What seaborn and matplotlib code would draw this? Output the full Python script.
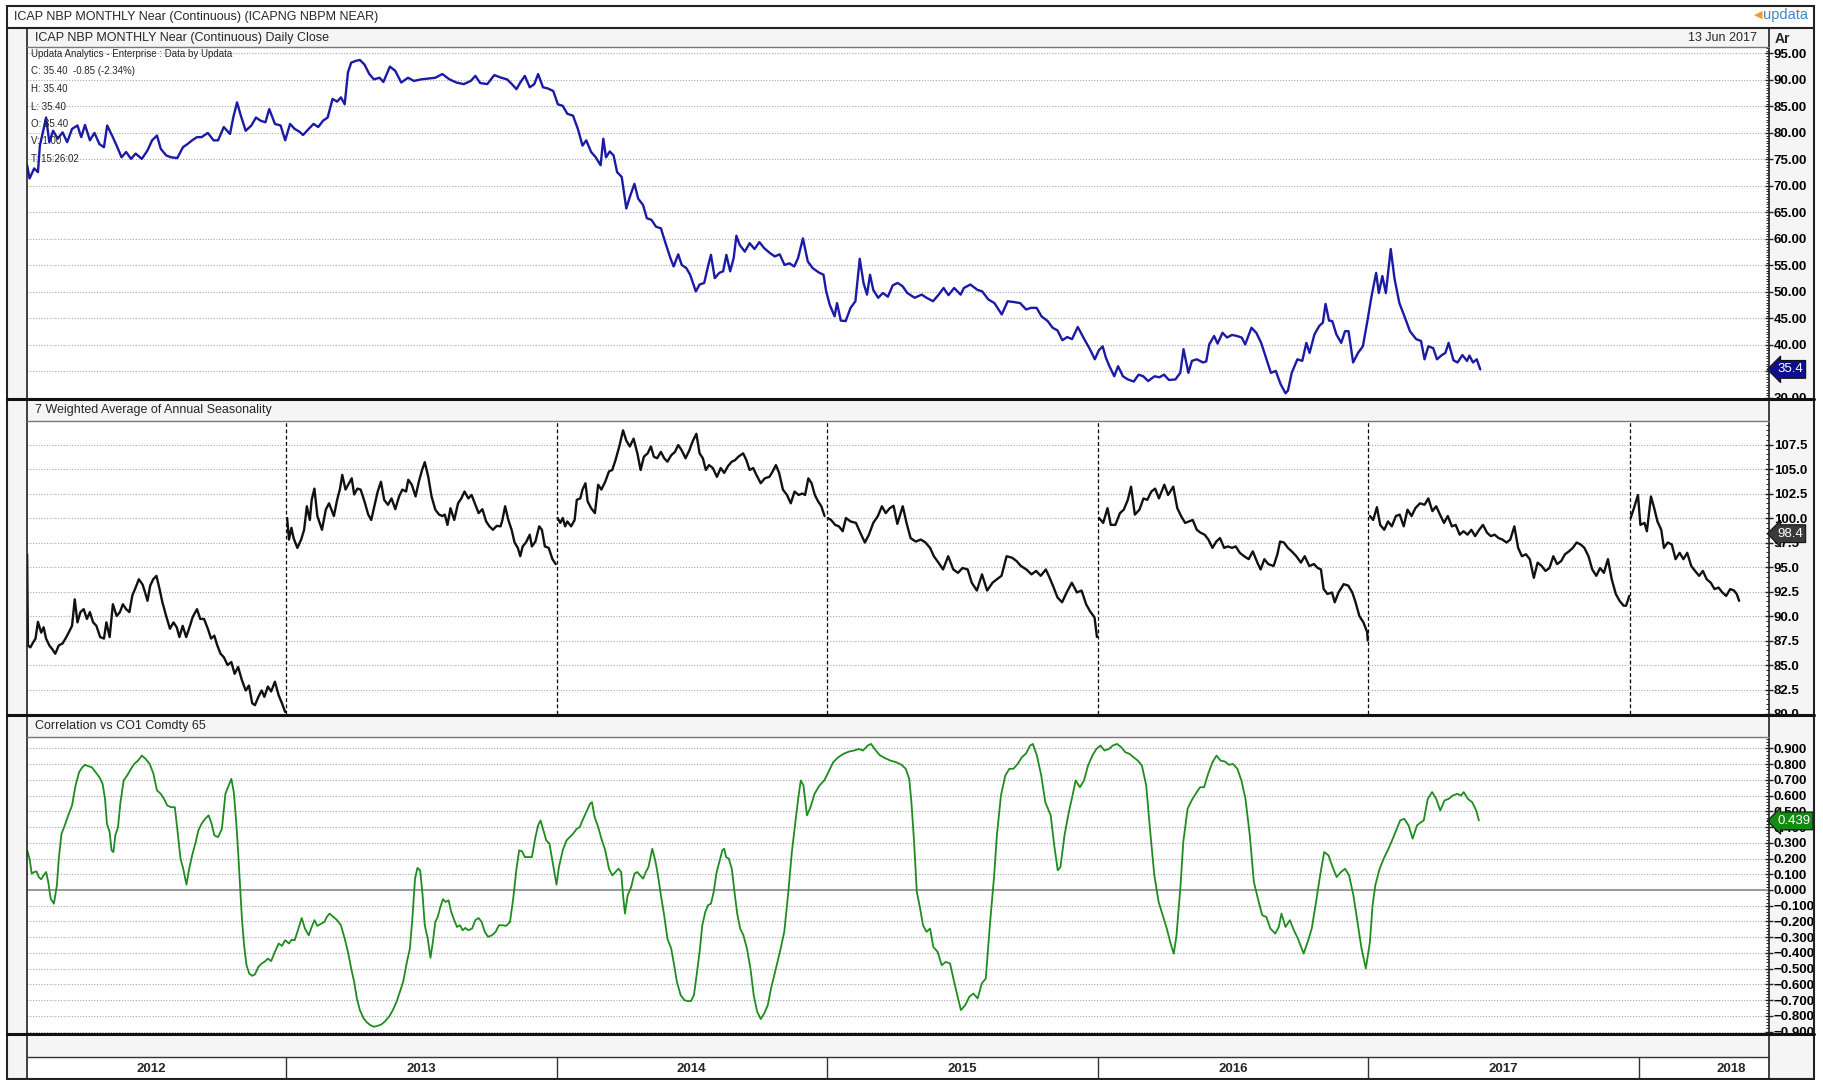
import numpy as np
import pandas as pd
import seaborn as sns
import matplotlib.pyplot as plt
from matplotlib.patches import Rectangle
from matplotlib.ticker import FixedLocator, MultipleLocator, StrMethodFormatter
from matplotlib.transforms import Bbox, TransformedBbox

# ---- values, x in decimal years ----
near_x = [
    2012.043, 2012.052, 2012.069, 2012.083, 2012.090, 2012.104, 2012.113, 2012.125, 2012.139, 2012.156,
    2012.174, 2012.191, 2012.209, 2012.229, 2012.243, 2012.257, 2012.275, 2012.292, 2012.310, 2012.327,
    2012.339, 2012.357, 2012.374, 2012.392, 2012.409, 2012.427, 2012.444, 2012.467, 2012.488, 2012.505,
    2012.523, 2012.537, 2012.557, 2012.575, 2012.598, 2012.619, 2012.636, 2012.653, 2012.671, 2012.688,
    2012.711, 2012.732, 2012.749, 2012.770, 2012.793, 2012.805, 2012.819, 2012.833, 2012.851, 2012.872,
    2012.889, 2012.906, 2012.924, 2012.938, 2012.959, 2012.980, 2012.997, 2013.015, 2013.032, 2013.049,
    2013.063, 2013.084, 2013.102, 2013.119, 2013.137, 2013.154, 2013.172, 2013.189, 2013.203, 2013.217,
    2013.229, 2013.241, 2013.259, 2013.273, 2013.290, 2013.308, 2013.325, 2013.346, 2013.360, 2013.384,
    2013.404, 2013.426, 2013.451, 2013.473, 2013.500, 2013.526, 2013.552, 2013.578, 2013.604, 2013.630,
    2013.657, 2013.683, 2013.700, 2013.718, 2013.744, 2013.770, 2013.796, 2013.817, 2013.835, 2013.852,
    2013.866, 2013.883, 2013.901, 2013.918, 2013.932, 2013.950, 2013.967, 2013.988, 2014.005, 2014.023,
    2014.040, 2014.061, 2014.079, 2014.096, 2014.110, 2014.128, 2014.145, 2014.163, 2014.173, 2014.183,
    2014.197, 2014.211, 2014.224, 2014.241, 2014.258, 2014.271, 2014.288, 2014.302, 2014.320, 2014.334,
    2014.351, 2014.368, 2014.386, 2014.403, 2014.421, 2014.433, 2014.450, 2014.463, 2014.480, 2014.494,
    2014.515, 2014.529, 2014.546, 2014.560, 2014.571, 2014.585, 2014.602, 2014.616, 2014.628, 2014.642,
    2014.655, 2014.665, 2014.677,
    2014.696, 2014.714, 2014.732, 2014.750, 2014.768, 2014.790, 2014.807, 2014.825, 2014.843, 2014.861,
    2014.879, 2014.893, 2014.911, 2014.929, 2014.947, 2014.969, 2014.987, 2014.997, 2015.010, 2015.028,
    2015.037, 2015.051, 2015.069, 2015.087, 2015.105, 2015.121, 2015.135, 2015.148, 2015.159, 2015.171,
    2015.189, 2015.207, 2015.225, 2015.243, 2015.261, 2015.279, 2015.297, 2015.324, 2015.350, 2015.368,
    2015.392, 2015.413, 2015.431, 2015.449, 2015.470, 2015.494, 2015.506, 2015.530, 2015.556, 2015.574,
    2015.596, 2015.619, 2015.646, 2015.668, 2015.691, 2015.714, 2015.736, 2015.754, 2015.775, 2015.793,
    2015.816, 2015.834, 2015.852, 2015.870, 2015.888, 2015.906, 2015.927, 2015.951, 2015.972, 2015.990,
    2016.005, 2016.019, 2016.031, 2016.044, 2016.062, 2016.076, 2016.094, 2016.112, 2016.134, 2016.152,
    2016.169, 2016.187, 2016.211, 2016.229, 2016.246, 2016.264, 2016.288, 2016.306, 2016.318, 2016.336,
    2016.349, 2016.367, 2016.390, 2016.402, 2016.413, 2016.431, 2016.444, 2016.462, 2016.479, 2016.497,
    2016.515, 2016.533, 2016.546, 2016.569, 2016.587, 2016.605, 2016.623, 2016.641, 2016.659, 2016.677,
    2016.695, 2016.704, 2016.718, 2016.739, 2016.757, 2016.772, 2016.784, 2016.802, 2016.820, 2016.833,
    2016.843, 2016.856, 2016.868, 2016.883, 2016.901, 2016.915, 2016.928, 2016.945, 2016.963, 2016.981,
    2016.999, 2017.012, 2017.030, 2017.040, 2017.053, 2017.066, 2017.084, 2017.098, 2017.116, 2017.137,
    2017.155, 2017.178, 2017.196, 2017.209, 2017.223, 2017.241, 2017.255, 2017.273, 2017.286, 2017.298,
    2017.316, 2017.331, 2017.349, 2017.366, 2017.375, 2017.388, 2017.402, 2017.415]
near_close = [
    73.9, 71.4, 73.3, 72.6, 77.6, 80.75, 82.9, 78.25, 80.4, 78.9,
    80.1, 78.25, 80.75, 81.4, 79.2, 81.5, 78.6, 80.0, 77.9, 77.3,
    81.4, 79.5, 77.6, 75.4, 76.4, 75.1, 76.1, 75.1, 76.7, 78.6,
    79.5, 77.0, 75.75, 75.4, 75.25, 77.3, 77.9, 78.6, 79.2, 79.2,
    80.0, 78.6, 78.6, 81.1, 79.8, 82.9, 85.75, 83.25, 80.4, 81.4,
    82.9, 82.3, 82.0, 84.5, 81.7, 81.4, 78.6, 81.7, 80.75, 80.25,
    79.6, 80.75, 81.7, 81.1, 82.3, 82.9, 86.4, 85.9, 86.7, 85.4,
    91.4, 93.25, 93.6, 93.75, 92.9, 91.1, 90.1, 90.4, 89.6, 92.5,
    91.7, 89.5, 90.4, 89.8, 90.1, 90.25, 90.4, 91.1, 90.1, 89.5,
    89.2, 89.8, 90.75, 89.4, 89.2, 90.9, 90.4, 90.1, 89.2, 88.25,
    89.5, 90.75, 88.6, 89.2, 91.1, 88.6, 88.4, 87.9, 85.4, 85.1,
    83.6, 83.25, 80.75, 77.6, 78.6, 76.4, 75.4, 73.9, 78.9, 75.4,
    76.5, 75.75, 72.6, 71.7, 65.75, 67.9, 70.4, 67.6, 66.4, 63.9,
    63.6, 62.3, 62.0, 59.2, 56.4, 54.8, 57.1, 55.1, 54.5, 53.25,
    50.1, 51.4, 51.7, 54.8, 57.0, 52.6, 53.6, 53.9, 57.0, 53.9,
    56.4, 60.6, 58.9,
    57.6, 59.2, 58.1, 59.4, 58.25, 57.3, 56.7, 57.1, 55.1, 55.4,
    54.8, 56.4, 60.1, 55.75, 54.5, 53.7, 53.25, 50.1, 47.6, 45.4,
    47.9, 44.6, 44.5, 47.0, 48.25, 56.25, 51.7, 49.5, 53.25, 50.4,
    48.9, 49.8, 49.1, 51.25, 51.7, 51.1, 49.8, 48.9, 49.5, 48.9,
    48.25, 49.5, 50.75, 49.4, 50.75, 49.5, 50.75, 51.4, 50.4, 50.1,
    48.6, 47.9, 45.75, 48.25, 48.1, 47.9, 46.7, 47.0, 47.0, 45.4,
    44.5, 43.25, 42.75, 40.9, 41.5, 41.1, 43.4, 41.1, 39.2, 37.3,
    39.0, 39.75, 37.6, 36.0, 34.1, 36.0, 34.1, 33.5, 33.1, 34.4,
    34.1, 33.2, 34.1, 33.9, 34.4, 33.4, 33.5, 34.75, 39.2, 34.75,
    37.0, 37.3, 36.7, 36.9, 40.1, 41.7, 40.25, 42.3, 41.4, 41.9,
    41.7, 41.4, 40.1, 43.25, 42.3, 40.4, 37.6, 34.75, 35.1, 32.6,
    30.9, 31.4, 34.75, 37.3, 37.0, 40.4, 38.5, 42.0, 43.6, 44.2,
    47.75, 44.6, 44.5, 42.0, 40.4, 42.6, 42.6, 36.7, 38.5, 39.75,
    44.9, 48.9, 53.6, 49.8, 53.0, 49.8, 58.1, 52.5, 47.9, 45.1,
    42.6, 41.1, 40.75, 37.3, 39.75, 39.4, 37.3, 38.1, 38.5, 40.4,
    37.1, 36.7, 38.1, 37.0, 38.0, 36.7, 37.3, 35.4]

season_x = [
    2012.043, 2012.046, 2012.055, 2012.065, 2012.074, 2012.083, 2012.095, 2012.104, 2012.113, 2012.125,
    2012.135, 2012.147, 2012.160, 2012.174, 2012.188, 2012.200, 2012.209, 2012.219, 2012.229, 2012.240,
    2012.252, 2012.264, 2012.275, 2012.287, 2012.299, 2012.313, 2012.327, 2012.336, 2012.348, 2012.360,
    2012.374, 2012.386, 2012.397, 2012.409, 2012.421, 2012.432, 2012.444, 2012.456, 2012.470, 2012.479,
    2012.488, 2012.498, 2012.509, 2012.521, 2012.533, 2012.543, 2012.557, 2012.571, 2012.584, 2012.596,
    2012.606, 2012.618, 2012.631, 2012.645, 2012.655, 2012.671, 2012.683, 2012.697, 2012.711, 2012.723,
    2012.735, 2012.746, 2012.758, 2012.770, 2012.784, 2012.798, 2012.810, 2012.823, 2012.837, 2012.851,
    2012.863, 2012.875, 2012.885, 2012.898, 2012.910, 2012.920, 2012.933, 2012.945, 2012.959, 2012.973,
    2012.985, 2012.997, 2013.004, 2013.011, 2013.020, 2013.028, 2013.042, 2013.056, 2013.067, 2013.077,
    2013.088, 2013.095, 2013.105, 2013.116, 2013.133, 2013.147, 2013.159, 2013.177, 2013.189, 2013.199,
    2013.208, 2013.220, 2013.233, 2013.243, 2013.252, 2013.264, 2013.276, 2013.290, 2013.304, 2013.315,
    2013.329, 2013.339, 2013.351, 2013.363, 2013.377, 2013.390, 2013.404, 2013.418, 2013.430, 2013.444,
    2013.452, 2013.465, 2013.479, 2013.491, 2013.503, 2013.513, 2013.526, 2013.538, 2013.552, 2013.566,
    2013.578, 2013.587, 2013.597, 2013.608, 2013.622, 2013.636, 2013.648, 2013.660, 2013.674, 2013.686,
    2013.700, 2013.712, 2013.726, 2013.740, 2013.752, 2013.765, 2013.779, 2013.793, 2013.800, 2013.810,
    2013.822, 2013.834, 2013.845, 2013.857, 2013.866, 2013.875, 2013.887, 2013.901, 2013.909, 2013.922,
    2013.936, 2013.946, 2013.957, 2013.971, 2013.985, 2013.997, 2014.004, 2014.014, 2014.023, 2014.032,
    2014.040, 2014.054, 2014.067, 2014.075, 2014.088, 2014.096, 2014.107, 2014.115, 2014.128, 2014.142,
    2014.154, 2014.166, 2014.180, 2014.194, 2014.206, 2014.218, 2014.232, 2014.246, 2014.258, 2014.271,
    2014.285, 2014.299, 2014.311, 2014.323, 2014.337, 2014.349, 2014.360, 2014.372, 2014.386, 2014.398,
    2014.410, 2014.424, 2014.438, 2014.450, 2014.463, 2014.477, 2014.491, 2014.503, 2014.517, 2014.529,
    2014.541, 2014.552, 2014.564, 2014.578, 2014.593, 2014.607, 2014.620, 2014.634, 2014.648, 2014.660,
    2014.672, 2014.690, 2014.702, 2014.714, 2014.727, 2014.739, 2014.755, 2014.770, 2014.787, 2014.799,
    2014.811, 2014.823, 2014.837, 2014.852, 2014.866, 2014.880, 2014.895, 2014.909, 2014.919, 2014.931,
    2014.943, 2014.955, 2014.967, 2014.979, 2014.991, 2015.003, 2015.015, 2015.030, 2015.044, 2015.058,
    2015.070, 2015.087, 2015.107, 2015.123, 2015.140, 2015.155, 2015.171, 2015.188, 2015.203, 2015.217,
    2015.232, 2015.246, 2015.260, 2015.280, 2015.294, 2015.309, 2015.328, 2015.347, 2015.364, 2015.381,
    2015.395, 2015.412, 2015.429, 2015.448, 2015.467, 2015.484, 2015.501, 2015.520, 2015.535, 2015.554,
    2015.573, 2015.592, 2015.612, 2015.628, 2015.645, 2015.664, 2015.684, 2015.701, 2015.717, 2015.737,
    2015.756, 2015.773, 2015.790, 2015.809, 2015.823, 2015.838, 2015.852, 2015.869, 2015.886, 2015.905,
    2015.924, 2015.941, 2015.958, 2015.972, 2015.989, 2015.998, 2016.006, 2016.021, 2016.037, 2016.049,
    2016.066, 2016.083, 2016.097, 2016.112, 2016.124, 2016.138, 2016.155, 2016.170, 2016.184, 2016.199,
    2016.213, 2016.227, 2016.247, 2016.261, 2016.280, 2016.295, 2016.309, 2016.324, 2016.338, 2016.352,
    2016.367, 2016.381, 2016.396, 2016.410, 2016.425, 2016.439, 2016.453, 2016.468, 2016.482, 2016.497,
    2016.511, 2016.526, 2016.542, 2016.559, 2016.574, 2016.591, 2016.603, 2016.617, 2016.631, 2016.651,
    2016.665, 2016.675, 2016.689, 2016.704, 2016.718, 2016.735, 2016.752, 2016.766, 2016.783, 2016.800,
    2016.814, 2016.826, 2016.836, 2016.850, 2016.867, 2016.877, 2016.891, 2016.910, 2016.927, 2016.942,
    2016.954, 2016.968, 2016.983, 2016.997, 2016.999, 2017.007, 2017.019, 2017.033, 2017.045, 2017.060,
    2017.074, 2017.088, 2017.103, 2017.117, 2017.132, 2017.146, 2017.161, 2017.175, 2017.192, 2017.209,
    2017.223, 2017.238, 2017.252, 2017.266, 2017.281, 2017.295, 2017.310, 2017.324, 2017.339, 2017.353,
    2017.368, 2017.382, 2017.396, 2017.411, 2017.425, 2017.440, 2017.454, 2017.468, 2017.483, 2017.497,
    2017.512, 2017.526, 2017.541, 2017.555, 2017.569, 2017.584, 2017.598, 2017.613, 2017.627, 2017.642,
    2017.656, 2017.671, 2017.685, 2017.699, 2017.714, 2017.728, 2017.743, 2017.757, 2017.771, 2017.786,
    2017.800, 2017.815, 2017.829, 2017.844, 2017.858, 2017.872, 2017.887, 2017.901, 2017.916, 2017.930,
    2017.945, 2017.954, 2017.966,
    2017.971, 2017.983, 2017.998, 2018.007, 2018.022, 2018.031, 2018.046, 2018.058, 2018.070, 2018.084,
    2018.094, 2018.108, 2018.123, 2018.137, 2018.152, 2018.166, 2018.180, 2018.195, 2018.209, 2018.224,
    2018.238, 2018.252, 2018.267, 2018.281, 2018.296, 2018.310, 2018.324, 2018.339, 2018.353, 2018.363,
    2018.372]
season_val = [
    96.3, 87.0, 86.8, 87.3, 87.7, 89.4, 88.3, 88.85, 87.7, 87.0,
    86.65, 86.15, 87.0, 87.2, 87.85, 88.5, 89.0, 91.7, 89.35, 90.4,
    90.7, 89.7, 90.4, 89.35, 89.0, 87.85, 87.7, 89.35, 87.85, 91.2,
    90.0, 90.4, 91.2, 90.7, 90.4, 92.1, 92.9, 93.75, 93.2, 92.4,
    91.55, 93.1, 93.75, 94.1, 92.7, 91.4, 90.0, 88.7, 89.35, 88.85,
    87.85, 89.0, 87.85, 89.0, 89.9, 90.7, 89.7, 89.7, 88.7, 87.7,
    88.0, 87.0, 86.15, 85.8, 85.0, 85.3, 84.1, 84.8, 83.45, 82.4,
    82.9, 81.1, 80.9, 81.75, 82.4, 81.75, 82.8, 82.3, 83.3, 81.9,
    81.1, 80.2, 100.0, 97.8, 99.0, 97.95, 96.95, 97.8, 98.8, 101.2,
    99.8, 101.85, 103.0, 100.2, 98.8, 100.85, 101.5, 100.2, 101.85, 102.9,
    104.4, 102.9, 103.55, 104.05, 102.4, 103.0, 102.9, 101.7, 100.35, 99.8,
    101.5, 102.7, 103.7, 101.85, 101.35, 102.0, 100.9, 102.2, 102.9, 102.7,
    103.9, 103.4, 102.2, 103.7, 104.9, 105.7, 104.2, 102.2, 100.85, 100.35,
    100.2, 100.35, 99.3, 101.0, 99.8, 101.5, 102.0, 102.7, 102.0, 102.35,
    101.35, 100.5, 100.9, 99.65, 99.15, 98.8, 99.2, 99.15, 99.8, 101.2,
    99.8, 98.8, 97.5, 96.95, 96.1, 97.1, 97.5, 98.3, 97.1, 97.6,
    99.15, 98.8, 97.1, 96.95, 95.8, 95.3, 100.0, 99.5, 100.0, 99.15,
    99.65, 99.15, 99.8, 101.85, 102.0, 102.9, 103.55, 101.7, 101.0, 100.5,
    103.4, 102.9, 103.7, 104.75, 104.9, 105.9, 107.3, 108.95, 107.9, 107.3,
    108.1, 106.6, 104.9, 106.25, 106.6, 107.3, 106.25, 106.1, 106.75, 106.1,
    105.75, 106.4, 106.75, 107.45, 106.9, 106.1, 106.9, 107.8, 108.6, 106.6,
    106.1, 104.9, 105.4, 105.1, 104.2, 105.1, 104.6, 105.3, 105.75, 105.9,
    106.25, 106.6, 105.9, 104.9, 105.1, 104.4, 103.55, 104.05, 104.2, 104.75,
    105.4, 104.6, 102.9, 102.35, 101.5, 102.7, 102.35, 102.5, 102.35, 104.05,
    103.55, 102.35, 101.7, 101.2, 100.2, 100.0, 99.8, 99.3, 99.15, 98.65,
    100.0, 99.65, 99.5, 98.5, 97.5, 98.3, 99.5, 100.2, 101.2, 100.5,
    101.0, 101.25, 99.4, 101.2, 99.5, 97.95, 97.6, 97.8, 97.5, 96.95,
    96.1, 95.45, 94.75, 96.1, 94.75, 94.4, 94.9, 94.75, 93.4, 92.6,
    94.25, 92.6, 93.4, 93.75, 94.1, 96.1, 95.95, 95.6, 95.1, 94.75,
    94.25, 94.6, 94.1, 94.75, 93.9, 92.9, 91.9, 91.4, 92.4, 93.4,
    92.4, 92.6, 91.2, 90.5, 89.85, 87.85, 100.0, 99.5, 101.0, 99.3,
    99.3, 100.5, 100.85, 101.85, 103.2, 100.35, 100.85, 102.0, 101.85, 102.7,
    103.0, 102.0, 103.4, 102.35, 103.2, 101.0, 100.2, 99.5, 99.65, 99.8,
    98.8, 98.5, 98.3, 97.8, 96.95, 97.6, 97.95, 96.95, 97.1, 96.95,
    97.1, 96.45, 96.1, 95.8, 96.6, 95.45, 94.75, 95.8, 95.3, 95.1,
    96.3, 97.6, 97.5, 96.95, 96.6, 96.1, 95.45, 96.1, 95.1, 95.3,
    94.9, 94.75, 92.75, 92.25, 92.4, 91.4, 92.4, 93.25, 93.1, 92.4,
    91.4, 90.0, 89.35, 88.35, 87.5, 100.2, 99.8, 101.1, 99.3, 98.8,
    99.65, 99.15, 100.2, 100.35, 99.15, 100.85, 100.2, 101.0, 101.5, 101.35,
    102.0, 100.7, 101.2, 100.35, 99.5, 100.2, 99.15, 99.3, 98.3, 98.65,
    98.3, 98.8, 98.15, 98.8, 99.3, 98.5, 98.15, 98.3, 97.95, 97.8,
    97.5, 97.8, 99.15, 96.95, 96.1, 96.3, 95.8, 93.9, 95.45, 95.1,
    94.6, 94.9, 96.1, 95.3, 95.6, 96.3, 96.6, 96.95, 97.5, 97.3,
    96.95, 96.1, 94.75, 94.1, 94.9, 94.4, 95.8, 93.75, 92.25, 91.55,
    91.05, 91.05, 92.05,
    100.0, 101.0, 102.35, 99.3, 99.5, 98.65, 102.2, 101.0, 99.65, 98.8,
    96.95, 97.5, 97.3, 95.8, 96.45, 95.8, 96.45, 95.1, 94.6, 94.1,
    94.6, 93.75, 93.4, 92.75, 92.9, 92.4, 92.05, 92.75, 92.6, 92.25,
    91.55]
# start of each annual seasonal pattern (the last one is the projection into 2018)
season_start = [2012.0, 2013.0, 2014.0, 2015.0, 2016.0, 2017.0, 2017.97]

corr_x = [
    2012.043, 2012.052, 2012.060, 2012.069, 2012.078, 2012.086, 2012.095, 2012.104, 2012.113, 2012.121,
    2012.130, 2012.142, 2012.153, 2012.160, 2012.170, 2012.182, 2012.195, 2012.209, 2012.222, 2012.235,
    2012.247, 2012.257, 2012.270, 2012.282, 2012.296, 2012.310, 2012.322, 2012.331, 2012.338, 2012.348,
    2012.355, 2012.362, 2012.369, 2012.379, 2012.388, 2012.400, 2012.414, 2012.427, 2012.439, 2012.453,
    2012.467, 2012.481, 2012.496, 2012.510, 2012.523, 2012.537, 2012.549, 2012.561, 2012.575, 2012.589,
    2012.598, 2012.610, 2012.620, 2012.632, 2012.641, 2012.653, 2012.666, 2012.676, 2012.688, 2012.701,
    2012.714, 2012.725, 2012.735, 2012.749, 2012.763, 2012.776, 2012.788, 2012.798, 2012.807, 2012.816,
    2012.823, 2012.830, 2012.837, 2012.845, 2012.854, 2012.864, 2012.875, 2012.885, 2012.898, 2012.910,
    2012.920, 2012.933, 2012.945, 2012.959, 2012.973, 2012.985, 2012.997, 2013.011, 2013.020, 2013.032,
    2013.046, 2013.058, 2013.070, 2013.084, 2013.095, 2013.105, 2013.116, 2013.130, 2013.142, 2013.151,
    2013.161, 2013.175, 2013.189, 2013.203, 2013.217, 2013.229, 2013.241, 2013.252, 2013.262, 2013.273,
    2013.287, 2013.299, 2013.311, 2013.325, 2013.339, 2013.353, 2013.367, 2013.381, 2013.395, 2013.409,
    2013.421, 2013.433, 2013.447, 2013.458, 2013.468, 2013.477, 2013.486, 2013.496, 2013.505, 2013.513,
    2013.524, 2013.534, 2013.543, 2013.552, 2013.561, 2013.569, 2013.580, 2013.590, 2013.601, 2013.611,
    2013.622, 2013.632, 2013.643, 2013.653, 2013.663, 2013.674, 2013.688, 2013.700, 2013.712, 2013.723,
    2013.735, 2013.747, 2013.761, 2013.775, 2013.787, 2013.800, 2013.814, 2013.828, 2013.840, 2013.852,
    2013.862, 2013.873, 2013.883, 2013.897, 2013.909, 2013.922, 2013.932, 2013.941, 2013.950, 2013.962,
    2013.974, 2013.988, 2014.000, 2014.009, 2014.023, 2014.037, 2014.049, 2014.061, 2014.075, 2014.086,
    2014.096, 2014.110, 2014.124, 2014.131, 2014.141, 2014.154, 2014.166, 2014.180, 2014.194, 2014.206,
    2014.218, 2014.229, 2014.239, 2014.246, 2014.253, 2014.263, 2014.276, 2014.288, 2014.299, 2014.309,
    2014.320, 2014.330, 2014.340, 2014.354, 2014.365, 2014.375, 2014.386, 2014.398, 2014.410, 2014.424,
    2014.435, 2014.445, 2014.459, 2014.473, 2014.485, 2014.497, 2014.508, 2014.518, 2014.529, 2014.539,
    2014.550, 2014.560, 2014.571, 2014.581, 2014.592, 2014.602, 2014.613, 2014.620, 2014.627, 2014.637,
    2014.648, 2014.658, 2014.668, 2014.679, 2014.691, 2014.704, 2014.717, 2014.729, 2014.742, 2014.755,
    2014.768, 2014.781, 2014.793, 2014.811, 2014.826, 2014.842, 2014.857, 2014.870, 2014.883, 2014.895,
    2014.903, 2014.913, 2014.926, 2014.939, 2014.954, 2014.972, 2014.990, 2015.005, 2015.023, 2015.041,
    2015.061, 2015.082, 2015.100, 2015.118, 2015.133, 2015.151, 2015.163, 2015.176, 2015.194, 2015.215,
    2015.235, 2015.255, 2015.276, 2015.291, 2015.304, 2015.312, 2015.322, 2015.332, 2015.342, 2015.355,
    2015.368, 2015.381, 2015.393, 2015.409, 2015.424, 2015.439, 2015.455, 2015.470, 2015.483, 2015.495,
    2015.511, 2015.526, 2015.541, 2015.557, 2015.572, 2015.587, 2015.603, 2015.618, 2015.628, 2015.643,
    2015.659, 2015.674, 2015.689, 2015.705, 2015.720, 2015.735, 2015.751, 2015.761, 2015.776, 2015.792,
    2015.807, 2015.827, 2015.840, 2015.853, 2015.863, 2015.878, 2015.894, 2015.909, 2015.919, 2015.935,
    2015.950, 2015.965, 2015.981, 2015.996, 2016.011, 2016.026, 2016.042, 2016.057, 2016.072, 2016.088,
    2016.103, 2016.118, 2016.134, 2016.149, 2016.164, 2016.180, 2016.195, 2016.210, 2016.226, 2016.241,
    2016.256, 2016.272, 2016.282, 2016.292, 2016.307, 2016.317, 2016.333, 2016.348, 2016.363, 2016.379,
    2016.394, 2016.409, 2016.425, 2016.440, 2016.455, 2016.471, 2016.486, 2016.501, 2016.517, 2016.532,
    2016.547, 2016.563, 2016.578, 2016.593, 2016.609, 2016.624, 2016.639, 2016.657, 2016.670, 2016.680,
    2016.695, 2016.711, 2016.726, 2016.741, 2016.762, 2016.777, 2016.792, 2016.808, 2016.823, 2016.838,
    2016.854, 2016.869, 2016.884, 2016.900, 2016.915, 2016.930, 2016.946, 2016.961, 2016.976, 2016.992,
    2017.007, 2017.017, 2017.027, 2017.043, 2017.058, 2017.073, 2017.089, 2017.104, 2017.119, 2017.134,
    2017.150, 2017.165, 2017.181, 2017.196, 2017.206, 2017.221, 2017.237, 2017.252, 2017.267, 2017.283,
    2017.298, 2017.313, 2017.329, 2017.344, 2017.354, 2017.369, 2017.385, 2017.400, 2017.410]
corr_val = [
    0.252, 0.199, 0.104, 0.114, 0.118, 0.082, 0.068, 0.093, 0.114, 0.051,
    -0.055, -0.087, 0.030, 0.199, 0.357, 0.410, 0.474, 0.537, 0.664, 0.748,
    0.780, 0.795, 0.786, 0.780, 0.748, 0.717, 0.674, 0.579, 0.421, 0.368,
    0.252, 0.241, 0.347, 0.400, 0.558, 0.696, 0.731, 0.770, 0.801, 0.822,
    0.854, 0.833, 0.801, 0.738, 0.632, 0.611, 0.579, 0.537, 0.526, 0.526,
    0.389, 0.199, 0.135, 0.034, 0.125, 0.220, 0.304, 0.378, 0.421, 0.452,
    0.474, 0.421, 0.347, 0.336, 0.389, 0.611, 0.664, 0.706, 0.622, 0.431,
    0.241, 0.030, -0.182, -0.351, -0.478, -0.531, -0.545, -0.537, -0.488, -0.467,
    -0.457, -0.436, -0.452, -0.393, -0.340, -0.355, -0.319, -0.340, -0.317, -0.319,
    -0.245, -0.178, -0.245, -0.288, -0.235, -0.192, -0.228, -0.214, -0.203, -0.171,
    -0.150, -0.171, -0.192, -0.224, -0.309, -0.393, -0.499, -0.584, -0.689, -0.763,
    -0.816, -0.841, -0.858, -0.869, -0.863, -0.854, -0.833, -0.805, -0.763, -0.710,
    -0.647, -0.584, -0.457, -0.372, -0.161, 0.072, 0.140, 0.125, -0.034, -0.224,
    -0.309, -0.431, -0.330, -0.203, -0.171, -0.118, -0.059, -0.076, -0.066, -0.140,
    -0.192, -0.235, -0.224, -0.256, -0.241, -0.256, -0.245, -0.192, -0.178, -0.203,
    -0.266, -0.298, -0.288, -0.266, -0.224, -0.224, -0.228, -0.203, -0.055, 0.135,
    0.252, 0.245, 0.209, 0.209, 0.209, 0.336, 0.410, 0.442, 0.389, 0.315,
    0.294, 0.156, 0.034, 0.146, 0.252, 0.315, 0.336, 0.357, 0.389, 0.400,
    0.442, 0.495, 0.548, 0.558, 0.463, 0.400, 0.326, 0.252, 0.135, 0.093,
    0.114, 0.135, 0.114, -0.034, -0.150, -0.034, 0.019, 0.104, 0.114, 0.093,
    0.072, 0.114, 0.146, 0.262, 0.188, 0.093, -0.034, -0.161, -0.309, -0.372,
    -0.478, -0.584, -0.668, -0.700, -0.706, -0.706, -0.668, -0.541, -0.393, -0.224,
    -0.140, -0.097, -0.087, -0.013, 0.114, 0.178, 0.252, 0.262, 0.209, 0.199,
    0.135, -0.013, -0.150, -0.245, -0.288, -0.372, -0.499, -0.668, -0.774, -0.820,
    -0.784, -0.732, -0.626, -0.499, -0.393, -0.266, -0.013, 0.241, 0.431, 0.600,
    0.696, 0.664, 0.474, 0.526, 0.611, 0.664, 0.696, 0.748, 0.812, 0.843,
    0.865, 0.880, 0.886, 0.896, 0.886, 0.918, 0.928, 0.896, 0.858, 0.837,
    0.822, 0.812, 0.795, 0.770, 0.706, 0.558, 0.304, -0.013, -0.097, -0.224,
    -0.266, -0.245, -0.362, -0.393, -0.478, -0.457, -0.467, -0.584, -0.679, -0.763,
    -0.732, -0.679, -0.658, -0.689, -0.594, -0.562, -0.203, 0.093, 0.347, 0.600,
    0.727, 0.770, 0.770, 0.801, 0.843, 0.865, 0.918, 0.928, 0.854, 0.727,
    0.558, 0.474, 0.283, 0.125, 0.146, 0.347, 0.495, 0.611, 0.696, 0.653,
    0.696, 0.791, 0.854, 0.896, 0.918, 0.886, 0.896, 0.918, 0.928, 0.907,
    0.875, 0.865, 0.843, 0.822, 0.791, 0.664, 0.368, 0.093, -0.076, -0.161,
    -0.245, -0.351, -0.404, -0.288, 0.030, 0.304, 0.516, 0.569, 0.611, 0.653,
    0.653, 0.738, 0.812, 0.854, 0.822, 0.816, 0.795, 0.801, 0.770, 0.696,
    0.579, 0.347, 0.051, -0.055, -0.161, -0.171, -0.245, -0.277, -0.235, -0.150,
    -0.235, -0.192, -0.256, -0.309, -0.404, -0.330, -0.245, -0.076, 0.093, 0.241,
    0.220, 0.146, 0.082, 0.114, 0.135, 0.093, -0.034, -0.203, -0.372, -0.499,
    -0.330, -0.097, 0.030, 0.135, 0.199, 0.252, 0.315, 0.378, 0.442, 0.452,
    0.410, 0.326, 0.410, 0.431, 0.442, 0.579, 0.622, 0.579, 0.505, 0.569,
    0.579, 0.600, 0.611, 0.600, 0.622, 0.579, 0.558, 0.505, 0.442]

years = [2012, 2013, 2014, 2015, 2016, 2017, 2018]
last_close, last_season, last_corr = 35.4, 98.4, 0.439
info_lines = ['Updata Analytics - Enterprise : Data by Updata', 'C: 35.40  -0.85 (-2.34%)',
              'H: 35.40', 'L: 35.40', 'O: 35.40', 'V: 1.00', 'T: 15:26:02']

W, H = 1823, 1080
X0, X1 = 2012.0425, 2018.4824

sns.set_theme(style='white')
plt.rcParams['font.family'] = ['Liberation Sans', 'DejaVu Sans']

fig = plt.figure(figsize=(W / 100, H / 100), dpi=100)


def box(x0, y0, x1, y1):
    # pixel box with top-left origin -> figure rect
    return [x0 / W, 1 - y1 / H, (x1 - x0) / W, (y1 - y0) / H]


bg = fig.add_axes([0, 0, 1, 1], zorder=-5)
bg.set_xlim(0, W); bg.set_ylim(H, 0); bg.axis('off')
top = fig.add_axes([0, 0, 1, 1], zorder=10)
top.set_xlim(0, W); top.set_ylim(H, 0); top.axis('off')

grey = '#f5f5f5'
for (a, b, c, d) in [(7, 28, 27, 1079), (1769, 28, 1814, 1079), (27, 28, 1769, 47),
                     (27, 399, 1769, 421), (27, 715, 1769, 737), (27, 1034, 1769, 1057)]:
    bg.add_patch(Rectangle((a, b), c - a, d - b, fc=grey, ec='none'))

ax1 = fig.add_axes(box(27, 47, 1769, 398))
ax2 = fig.add_axes(box(27, 421, 1769, 714))
ax3 = fig.add_axes(box(27, 737, 1769, 1034))
axy = fig.add_axes(box(27, 1057, 1769, 1078))

df_near = pd.DataFrame({'x': near_x, 'close': near_close})
sns.lineplot(data=df_near, x='x', y='close', ax=ax1, color='#1a1aa6', linewidth=1.7,
             estimator=None, sort=False)

df_season = pd.DataFrame({'x': season_x, 'val': season_val})
df_season['seg'] = np.searchsorted(season_start, df_season['x'], side='right')
sns.lineplot(data=df_season, x='x', y='val', units='seg', estimator=None, sort=False,
             ax=ax2, color='#111111', linewidth=1.7)
for s in season_start[1:]:
    ax2.axvline(s, color='black', ls=(0, (3, 2)), lw=0.9, zorder=1)

df_corr = pd.DataFrame({'x': corr_x, 'corr': corr_val})
ax3.axhline(0, color='#9a9a9a', lw=1.4, zorder=1.5)
sns.lineplot(data=df_corr, x='x', y='corr', ax=ax3, color='#1e8c1e', linewidth=1.3,
             estimator=None, sort=False)


def style(ax, ylim, ticks, fmt, minor, y0, y1):
    ax.set_xlim(X0, X1)
    ax.set_ylim(*ylim)
    ax.set_xticks([])
    ax.set_xlabel('')
    ax.set_ylabel('')
    for s in ax.spines.values():
        s.set_visible(False)
    ax.yaxis.set_major_locator(FixedLocator(ticks))
    ax.yaxis.set_minor_locator(MultipleLocator(minor))
    ax.yaxis.set_major_formatter(StrMethodFormatter(fmt))
    ax.yaxis.tick_right()
    ax.tick_params(axis='y', which='major', direction='inout', length=6, width=1, color='#222',
                   labelsize=9.5, pad=0.5, labelcolor='black', right=True, left=False)
    ax.tick_params(axis='y', which='minor', direction='in', length=2.5, width=0.7, color='#222',
                   right=True, left=False)
    ax.grid(axis='y', which='major', ls=(0, (1, 1.5)), color='#a8a8a8', lw=0.8)
    ax.grid(axis='x', visible=False)
    clip = TransformedBbox(Bbox.from_extents(1769 / W, 1 - y1 / H, 1814 / W, 1 - y0 / H),
                           fig.transFigure)
    for t in ax.get_yticklabels():
        t.set_fontweight('bold')
        t.set_clip_box(clip)
        t.set_clip_on(True)


style(ax1, (30, 96.2), np.arange(30, 96, 5), '{x:.2f}', 0.5, 47, 398)
style(ax2, (80, 109.9), np.arange(80, 108.6, 2.5), '{x:.1f}', 0.5, 421, 714)
style(ax3, (-0.915, 0.972), np.arange(-9, 10) / 10, '{x:.3f}', 0.02, 737, 1034)


def tag(ax, v, text, fc):
    ax.annotate(text, xy=(1, v), xycoords=('axes fraction', 'data'), xytext=(8, 0),
                textcoords='offset pixels', ha='left', va='center', fontsize=9.5,
                color='white', annotation_clip=False, zorder=30,
                bbox=dict(boxstyle='larrow,pad=0.22', fc=fc, ec='#111111', lw=0.8))


tag(ax1, last_close, f'{last_close:.1f}', '#0f0f8c')
tag(ax2, last_season, f'{last_season:.1f}', '#3a3a3a')
tag(ax3, last_corr, f'{last_corr:.3f}', '#138a13')

# year strip
axy.set_xlim(X0, X1)
axy.set_ylim(0, 1)
axy.axis('off')
axy.vlines(years[1:], 0, 1, color='#333333', lw=1)
for y in years:
    axy.text(min(y + 0.5, X1 - 0.14), 0.45, str(y), ha='center', va='center',
             fontsize=9.5, fontweight='bold')

# frame lines
top.add_patch(Rectangle((7, 6), 1807, 1073, fill=False, ec='#222222', lw=1.5))
top.plot([7, 1814], [28, 28], color='#222222', lw=1.5)
top.plot([27, 27], [28, 1079], color='#222222', lw=1.2)
top.plot([1769, 1769], [28, 1079], color='#222222', lw=1.2)
for y in (47, 421, 737):
    top.plot([27, 1769], [y, y], color='#777777', lw=1)
for y in (398.5, 714.5, 1034):
    top.plot([7, 1814], [y, y], color='#111111', lw=2.2)
top.plot([27, 1769], [1057, 1057], color='#333333', lw=1)

# headers
top.text(14, 17, 'ICAP NBP MONTHLY Near (Continuous) (ICAPNG NBPM NEAR)', fontsize=9, va='center')
top.text(35, 38, 'ICAP NBP MONTHLY Near (Continuous) Daily Close', fontsize=9, va='center')
top.text(1757, 38, '13 Jun 2017', fontsize=9, va='center', ha='right')
top.text(1775, 39, 'Ar', fontsize=10, va='center', fontweight='bold')
top.text(35, 410, '7 Weighted Average of Annual Seasonality', fontsize=9, va='center')
top.text(35, 726, 'Correlation vs CO1 Comdty 65', fontsize=9, va='center')
for i, line in enumerate(info_lines):
    top.text(31, 54 + i * 17.5, line, fontsize=7, va='center')
top.text(1762, 15, '\u25c0', color='#f29a2e', fontsize=8, ha='right', va='center',
         family=['DejaVu Sans'])
top.text(1808, 15, 'updata', color='#3b86c8', fontsize=10.5, ha='right', va='center')

fig.savefig('out.png', dpi=100)
